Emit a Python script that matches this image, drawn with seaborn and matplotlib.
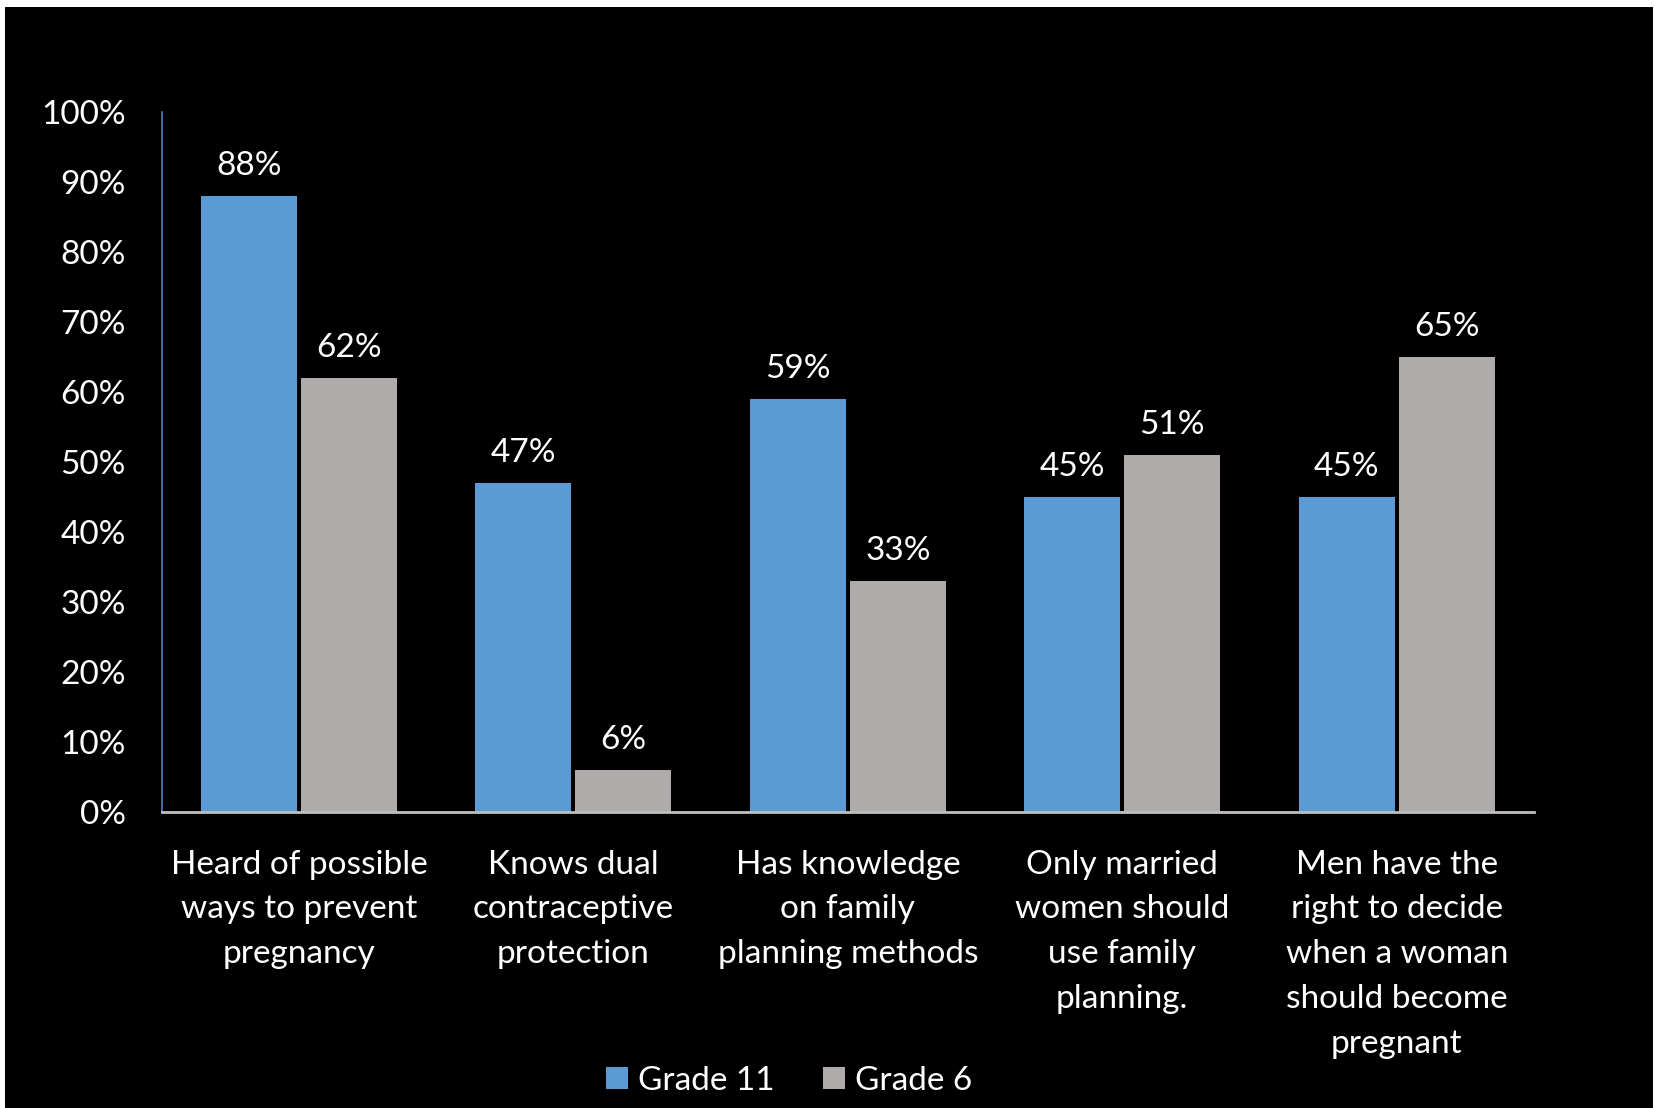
import matplotlib
matplotlib.use("Agg")
import matplotlib.pyplot as plt
import seaborn as sns
import pandas as pd
from matplotlib.patches import Rectangle, Patch

categories = [
    "Heard of possible\nways to prevent\npregnancy",
    "Knows dual\ncontraceptive\nprotection",
    "Has knowledge\non family\nplanning methods",
    "Only married\nwomen should\nuse family\nplanning.",
    "Men have the\nright to decide\nwhen a woman\nshould become\npregnant",
]
series_names = ["Grade 11", "Grade 6"]
grade11 = [88, 47, 59, 45, 45]
grade6 = [62, 6, 33, 51, 65]
yticks = [0, 10, 20, 30, 40, 50, 60, 70, 80, 90, 100]
colors = ["#5B9BD5", "#AFABAB"]

df = pd.DataFrame({
    "category": categories * 2,
    "series": [series_names[0]] * len(categories) + [series_names[1]] * len(categories),
    "value": grade11 + grade6,
})

sns.set_theme(style="dark")
FONT = ["Lato", "DejaVu Sans"]
plt.rcParams["font.family"] = FONT
FS = 24

fig = plt.figure(figsize=(16.55, 11.08), dpi=100)
fig.patch.set_facecolor("white")
bg = Rectangle((5 / 1655, 0), (1653 - 5) / 1655, (1108 - 7) / 1108,
               transform=fig.transFigure, facecolor="black",
               edgecolor="none", zorder=-10)
fig.add_artist(bg)

ax = fig.add_axes([161.7 / 1655, (1108 - 812) / 1108, (1534 - 161.7) / 1655, 700 / 1108])
ax.set_zorder(1)
ax.set_facecolor("black")
sns.barplot(data=df, x="category", y="value", hue="series", palette=colors,
            width=0.7286, gap=0.04, ax=ax, legend=False, saturation=1,
            order=categories, hue_order=series_names, edgecolor="none", linewidth=0)

for cont in ax.containers:
    ax.bar_label(cont, labels=[f"{int(v)}%" for v in cont.datavalues],
                 color="white", fontsize=FS, padding=11)

ax.set_ylim(0, 100)
ax.set_xlim(-0.5, len(categories) - 0.5)
ax.set_yticks(yticks)
ax.set_yticklabels([f"{t}%" for t in yticks])
ax.set_xticks(range(len(categories)))
ax.set_xticklabels(categories, linespacing=1.62)
ax.tick_params(axis="y", colors="white", labelsize=FS, length=0, pad=26)
ax.tick_params(axis="x", colors="white", labelsize=FS, length=0, pad=27)
ax.set_xlabel("")
ax.set_ylabel("")
ax.grid(False)
for s in ["top", "right"]:
    ax.spines[s].set_visible(False)
ax.spines["left"].set_visible(True)
ax.spines["left"].set_color("#4F81BD")
ax.spines["left"].set_linewidth(1.2)
ax.spines["bottom"].set_visible(True)
ax.spines["bottom"].set_color("#BFBFBF")
ax.spines["bottom"].set_linewidth(2)

handles = [Patch(facecolor=c, edgecolor="none") for c in colors]
leg = fig.legend(handles, series_names, loc="center", bbox_to_anchor=(789 / 1655, 27 / 1108),
                 ncol=2, frameon=False, fontsize=FS, handlelength=0.65, handleheight=0.65,
                 handletextpad=0.3, columnspacing=1.45)
for t in leg.get_texts():
    t.set_color("white")

fig.savefig("out.png", dpi=100, facecolor=fig.get_facecolor())
